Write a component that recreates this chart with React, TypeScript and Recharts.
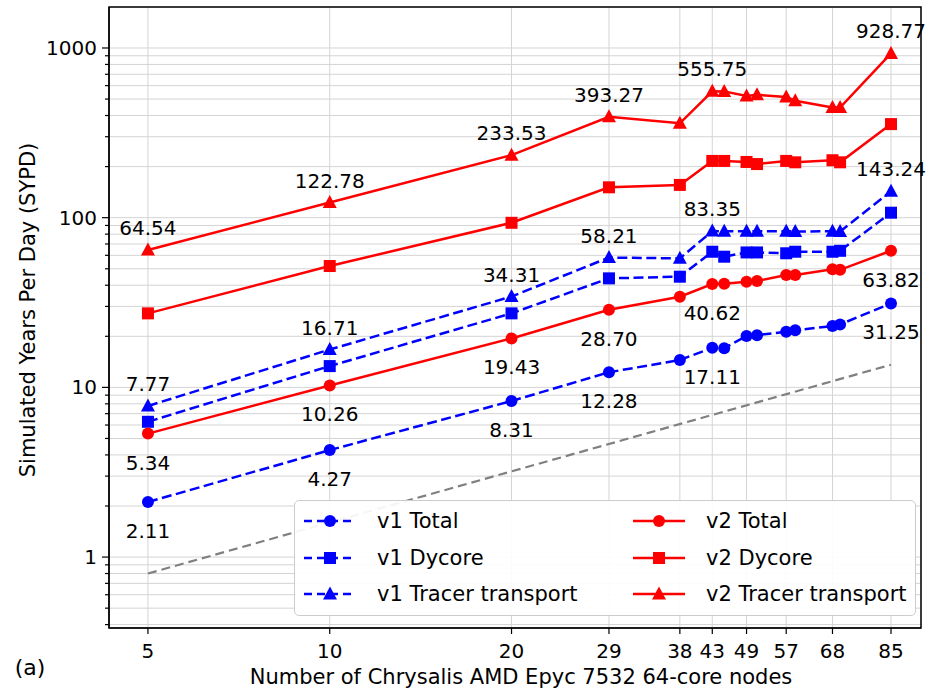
import { LineChart, Line, XAxis, YAxis, CartesianGrid, LabelList, Legend, ReferenceArea } from 'recharts';

// node counts (x) — paired runs around 43/49/57/68
const nodes = [5, 10, 20, 29, 38, 43, 45, 49, 51, 57, 59, 68, 70, 85];
const xTicks = [5, 10, 20, 29, 38, 43, 49, 57, 68, 85];
const labeledNodes = [5, 10, 20, 29, 43, 85];

// SYPD per series
const v1Total = [2.11, 4.27, 8.31, 12.28, 14.5, 17.11, 17.0, 20.1, 20.3, 21.3, 21.7, 23.0, 23.5, 31.25];
const v1Dycore = [6.27, 13.35, 27.3, 43.9, 44.9, 63.0, 58.9, 62.4, 62.4, 61.7, 63.0, 63.0, 63.8, 107];
const v1Tracer = [7.77, 16.71, 34.31, 58.21, 57.6, 83.35, 83.2, 83.3, 83.1, 83.2, 83.0, 83.1, 82.9, 143.24];
const v2Total = [5.34, 10.26, 19.43, 28.7, 34.2, 40.62, 40.8, 41.9, 42.4, 45.9, 46.0, 49.6, 49.3, 63.82];
const v2Dycore = [27.3, 51.9, 93.3, 151, 156, 216, 216, 213, 207, 216, 212, 218, 212, 356];
const v2Tracer = [64.54, 122.78, 233.53, 393.27, 360, 555.75, 555, 521, 530, 515, 489, 446, 446, 928.77];
// ideal scaling reference (end points only)
const idealScaling = [0.8, null, null, null, null, null, null, null, null, null, null, null, null, 13.6];

const yMajor = [1, 10, 100, 1000];
const yMinor = [
  0.4, 0.5, 0.6, 0.7, 0.8, 0.9,
  2, 3, 4, 5, 6, 7, 8, 9,
  20, 30, 40, 50, 60, 70, 80, 90,
  200, 300, 400, 500, 600, 700, 800, 900,
];

const xDomain = [4.31, 95.3];
const yDomain = [0.382, 1744];

const BLUE = '#0000ff';
const RED = '#ff0000';
const FONT = '"DejaVu Sans", sans-serif';
const DASH = '10 4.5';
const LW = 2.5;

const data = nodes.map((n, i) => ({
  n,
  v1Total: v1Total[i],
  v1Dycore: v1Dycore[i],
  v1Tracer: v1Tracer[i],
  v2Total: v2Total[i],
  v2Dycore: v2Dycore[i],
  v2Tracer: v2Tracer[i],
  ideal: idealScaling[i],
}));

const yTicks = [...yMinor, ...yMajor].sort((a, b) => a - b);

type Shape = 'circle' | 'square' | 'triangle';

function Marker({ cx, cy, shape, color }: { cx: number; cy: number; shape: Shape; color: string }) {
  if (cx == null || cy == null) return null;
  if (shape === 'circle') return <circle cx={cx} cy={cy} r={6} fill={color} />;
  if (shape === 'square') return <rect x={cx - 6} y={cy - 6} width={12} height={12} fill={color} />;
  return <polygon points={`${cx},${cy - 7.5} ${cx - 7},${cy + 5.5} ${cx + 7},${cy + 5.5}`} fill={color} />;
}

const dotOf = (shape: Shape, color: string) =>
  // eslint-disable-next-line @typescript-eslint/no-explicit-any
  (p: any) => <Marker key={`m-${p.index}`} cx={p.cx} cy={p.cy} shape={shape} color={color} />;

const labelOf = (pos: 'above' | 'below') =>
  // eslint-disable-next-line @typescript-eslint/no-explicit-any
  (p: any) => {
    const { x, y, value, index } = p;
    if (!labeledNodes.includes(nodes[index])) return null;
    return (
      <text x={x} y={pos === 'above' ? y - 15 : y + 36} textAnchor="middle" fontSize={20} fill="#000" fontFamily={FONT}>
        {Number(value).toFixed(2)}
      </text>
    );
  };

// eslint-disable-next-line @typescript-eslint/no-explicit-any
function YTick({ x, y, payload }: any) {
  const v = payload.value;
  const major = yMajor.includes(v);
  return (
    <g>
      <line x1={x} x2={x - (major ? 7 : 4)} y1={y} y2={y} stroke="#000" strokeWidth={1.2} />
      {major && (
        <text x={x - 12} y={y} dy="0.355em" textAnchor="end" fontSize={20} fill="#000" fontFamily={FONT}>
          {v}
        </text>
      )}
    </g>
  );
}

const legendItems: { name: string; color: string; shape: Shape; dashed: boolean }[] = [
  { name: 'v1 Total', color: BLUE, shape: 'circle', dashed: true },
  { name: 'v1 Dycore', color: BLUE, shape: 'square', dashed: true },
  { name: 'v1 Tracer transport', color: BLUE, shape: 'triangle', dashed: true },
  { name: 'v2 Total', color: RED, shape: 'circle', dashed: false },
  { name: 'v2 Dycore', color: RED, shape: 'square', dashed: false },
  { name: 'v2 Tracer transport', color: RED, shape: 'triangle', dashed: false },
];

function LegendBox() {
  return (
    <div
      style={{
        position: 'relative', width: 622, height: 116, boxSizing: 'border-box',
        border: '1px solid #cccccc', borderRadius: 5, background: 'rgba(255,255,255,0.92)',
        fontFamily: FONT, fontSize: 21, color: '#000',
      }}
    >
      {legendItems.map((it, i) => {
        const col = Math.floor(i / 3);
        const row = i % 3;
        const left = col === 0 ? 8 : 337;
        const top = 20 + row * 36.5;
        return (
          <div key={it.name} style={{ position: 'absolute', left, top: top - 14, height: 28, display: 'flex', alignItems: 'center' }}>
            <svg width={54} height={28}>
              <line x1={1} x2={53} y1={14} y2={14} stroke={it.color} strokeWidth={LW} strokeDasharray={it.dashed ? '8 5' : undefined} />
              <Marker cx={27} cy={14} shape={it.shape} color={it.color} />
            </svg>
            <span style={{ marginLeft: 20, whiteSpace: 'nowrap' }}>{it.name}</span>
          </div>
        );
      })}
    </div>
  );
}

export default function App() {
  return (
    <div style={{ position: 'absolute', left: 0, top: 0, width: 928, height: 696, background: '#fff', fontFamily: FONT }}>
      <LineChart width={928} height={696} data={data} margin={{ top: 7, right: 7, left: 0, bottom: 0 }} style={{ overflow: 'visible' }}>
        <CartesianGrid stroke="#d4d4d4" strokeWidth={1} />
        <XAxis
          dataKey="n"
          type="number"
          scale="log"
          domain={xDomain}
          ticks={xTicks}
          interval={0}
          height={68}
          tickSize={6}
          tickMargin={10}
          tick={{ fontSize: 20, fill: '#000', fontFamily: FONT }}
          tickLine={{ stroke: '#000', strokeWidth: 1.2 }}
          axisLine={{ stroke: '#000', strokeWidth: 1.2 }}
        />
        <YAxis
          type="number"
          scale="log"
          domain={yDomain}
          ticks={yTicks}
          interval={0}
          width={109}
          tickSize={0}
          tickMargin={0}
          tick={<YTick />}
          axisLine={{ stroke: '#000', strokeWidth: 1.2 }}
        />
        {/* plot frame */}
        <ReferenceArea
          x1={xDomain[0]}
          x2={xDomain[1]}
          y1={yDomain[0]}
          y2={yDomain[1]}
          fill="none"
          fillOpacity={0}
          stroke="#000"
          strokeWidth={1.5}
          strokeOpacity={1}
          ifOverflow="visible"
        />
        <Line dataKey="ideal" stroke="#808080" strokeWidth={2.2} strokeDasharray="9 5" dot={false} connectNulls isAnimationActive={false} legendType="none" />
        <Line dataKey="v1Total" name="v1 Total" stroke={BLUE} strokeWidth={LW} strokeDasharray={DASH} dot={dotOf('circle', BLUE)} isAnimationActive={false}>
          <LabelList dataKey="v1Total" content={labelOf('below')} />
        </Line>
        <Line dataKey="v1Dycore" name="v1 Dycore" stroke={BLUE} strokeWidth={LW} strokeDasharray={DASH} dot={dotOf('square', BLUE)} isAnimationActive={false} />
        <Line dataKey="v1Tracer" name="v1 Tracer transport" stroke={BLUE} strokeWidth={LW} strokeDasharray={DASH} dot={dotOf('triangle', BLUE)} isAnimationActive={false}>
          <LabelList dataKey="v1Tracer" content={labelOf('above')} />
        </Line>
        <Line dataKey="v2Total" name="v2 Total" stroke={RED} strokeWidth={LW} dot={dotOf('circle', RED)} isAnimationActive={false}>
          <LabelList dataKey="v2Total" content={labelOf('below')} />
        </Line>
        <Line dataKey="v2Dycore" name="v2 Dycore" stroke={RED} strokeWidth={LW} dot={dotOf('square', RED)} isAnimationActive={false} />
        <Line dataKey="v2Tracer" name="v2 Tracer transport" stroke={RED} strokeWidth={LW} dot={dotOf('triangle', RED)} isAnimationActive={false}>
          <LabelList dataKey="v2Tracer" content={labelOf('above')} />
        </Line>
        <Legend
          layout="horizontal"
          verticalAlign="middle"
          align="center"
          wrapperStyle={{ left: 294, top: 500, width: 622, height: 116 }}
          content={() => <LegendBox />}
        />
      </LineChart>
      <div
        style={{
          position: 'absolute', left: 28, top: 310, transform: 'translate(-50%, -50%) rotate(-90deg)',
          whiteSpace: 'nowrap', fontSize: 21, color: '#000',
        }}
      >
        Simulated Years Per Day (SYPD)
      </div>
      <div
        style={{
          position: 'absolute', left: 521, top: 677, transform: 'translate(-50%, -50%)',
          whiteSpace: 'nowrap', fontSize: 21, color: '#000', lineHeight: '24px',
        }}
      >
        Number of Chrysalis AMD Epyc 7532 64-core nodes
      </div>
      <div style={{ position: 'absolute', left: 30, top: 667, transform: 'translate(-50%, -50%)', fontSize: 22, color: '#000' }}>
        (a)
      </div>
    </div>
  );
}
